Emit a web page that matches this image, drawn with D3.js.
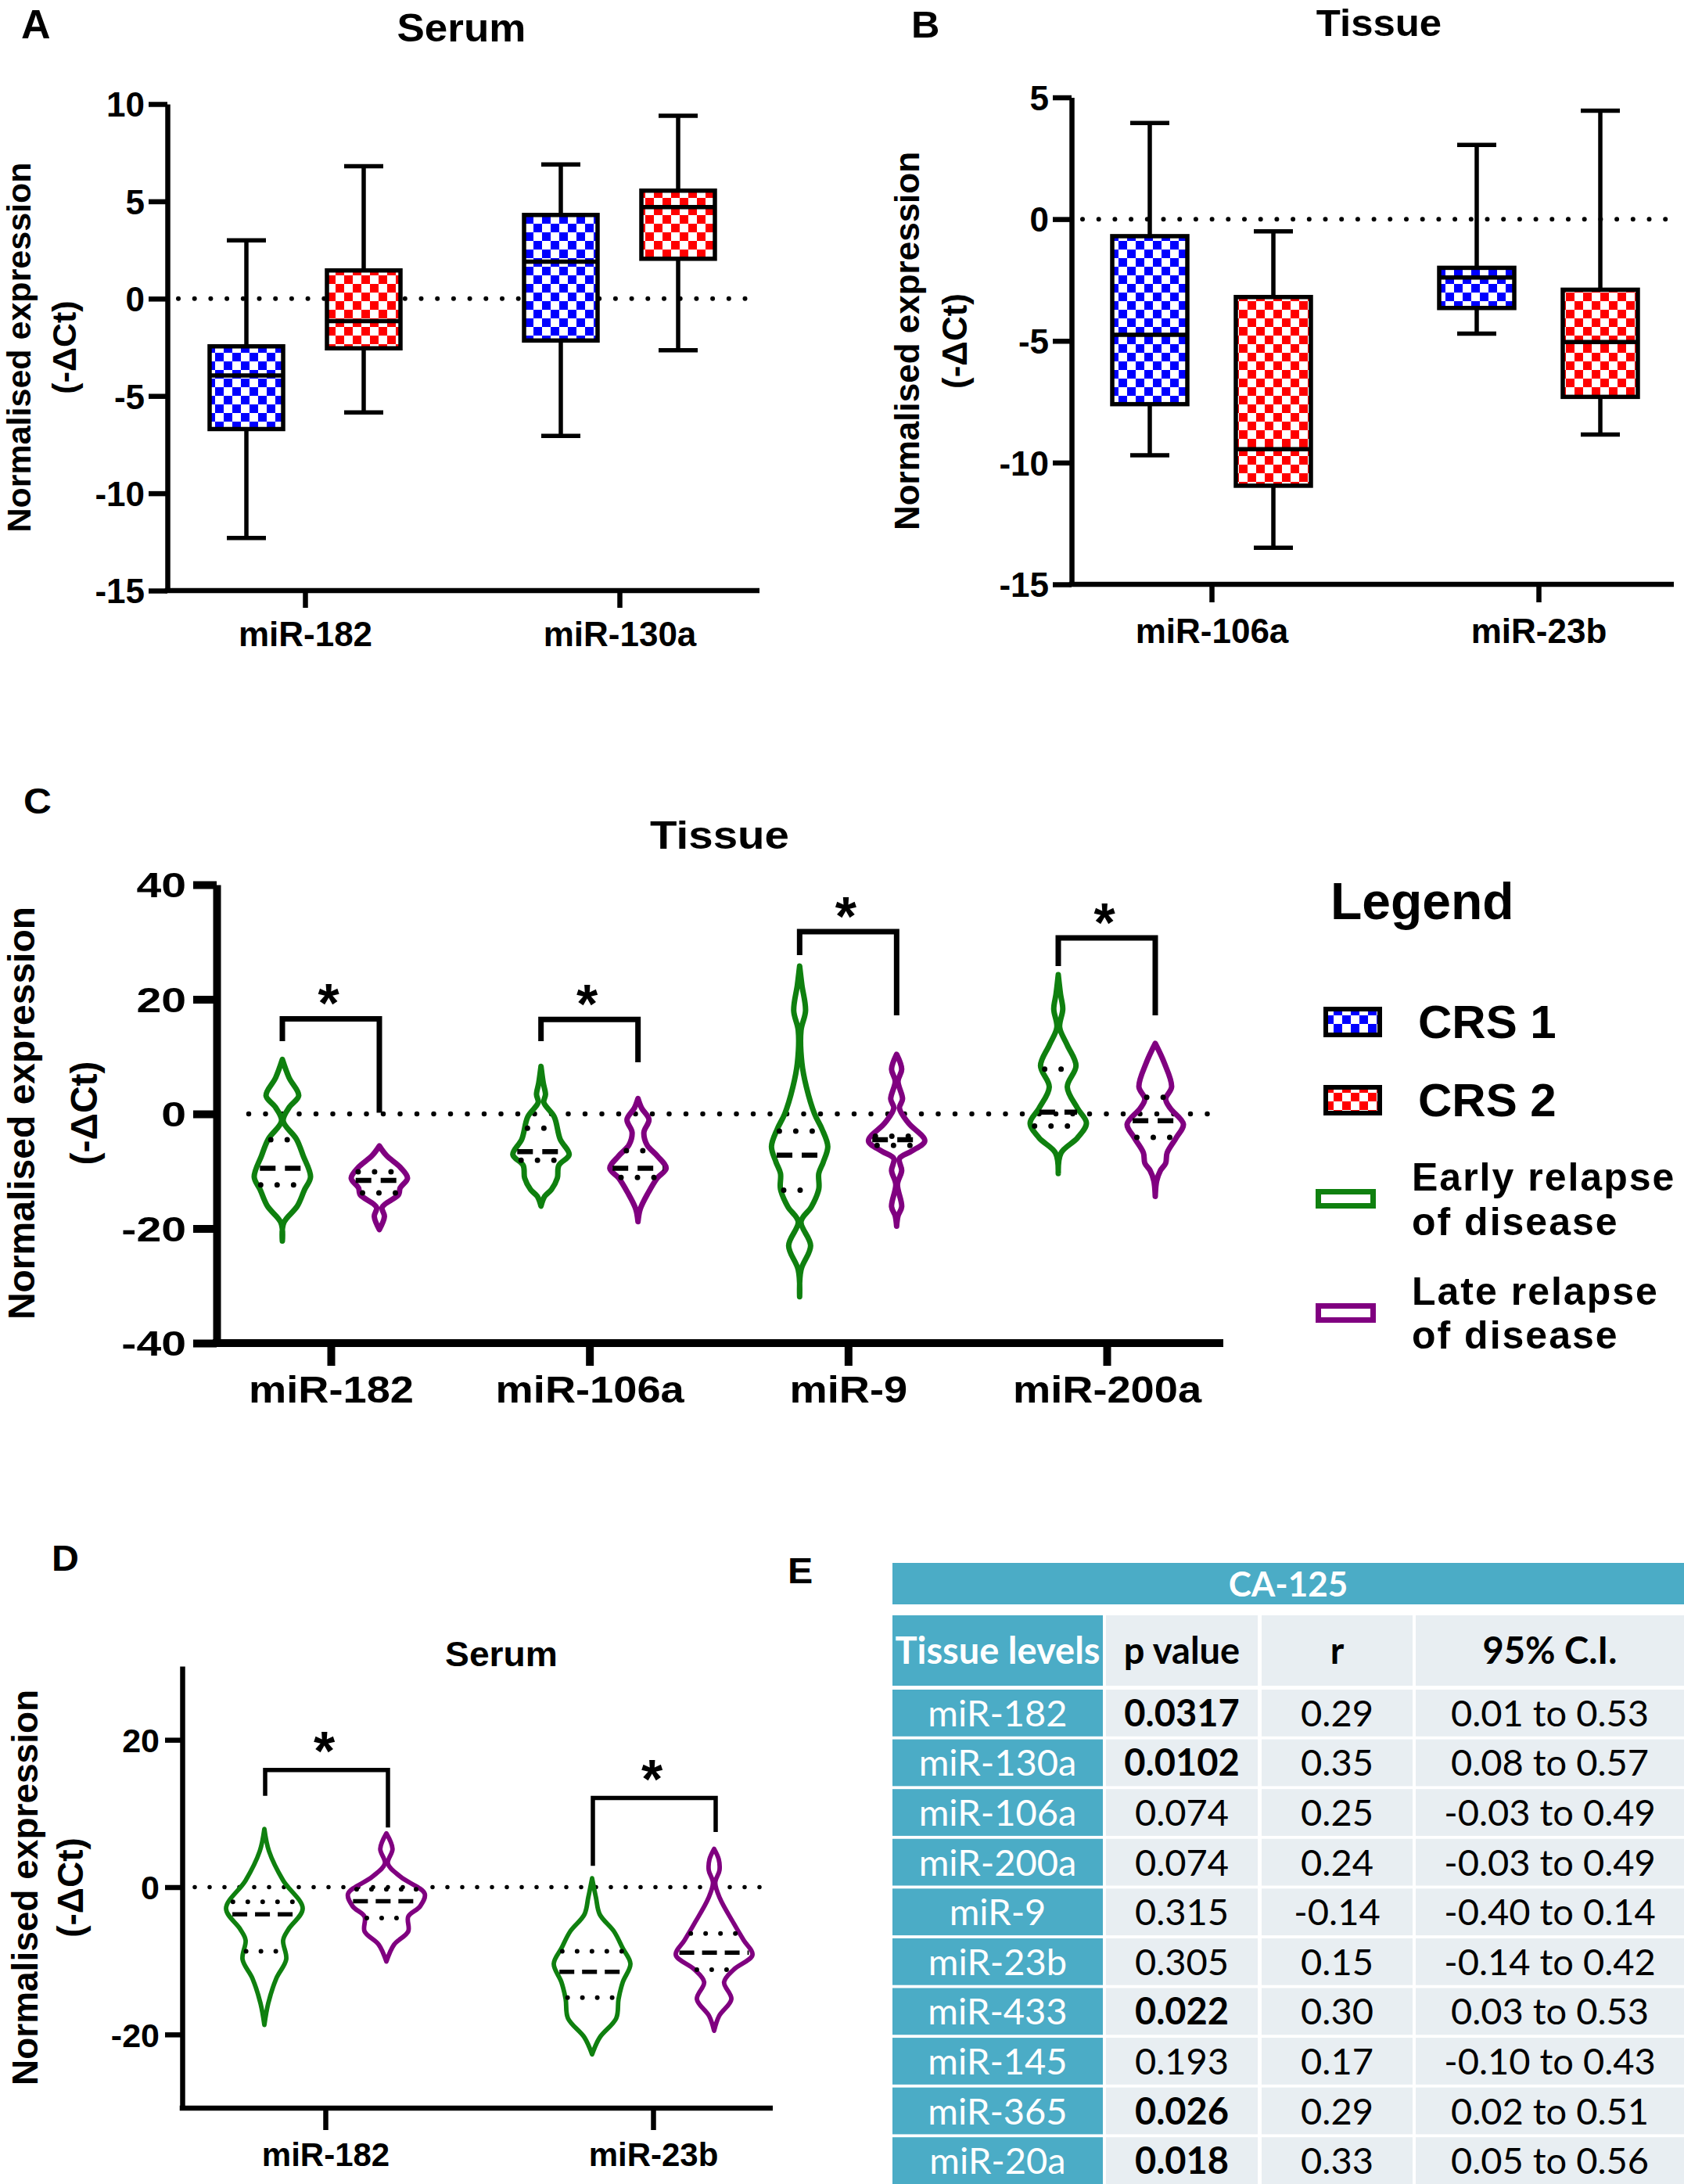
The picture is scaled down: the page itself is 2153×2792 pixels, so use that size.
<!DOCTYPE html>
<html><head><meta charset="utf-8">
<script src="https://cdn.jsdelivr.net/npm/d3@7"></script>
<style>html,body{margin:0;padding:0;background:#fff}svg{display:block}</style>
</head><body>
<script>
// ================= DATA =================
// Panel A (Serum) and B (Tissue) box plots: [min, q1, median, q3, max]
const catsA = ["miR-182", "miR-130a"];
const boxA_CRS1 = [[-12.3, -6.7, -3.95, -2.45, 3.0], [-7.05, -2.15, 1.9, 4.3, 6.9]];
const boxA_CRS2 = [[-5.85, -2.55, -1.15, 1.45, 6.8], [-2.65, 2.05, 4.7, 5.55, 9.4]];
const ticksA = [10, 5, 0, -5, -10, -15];

const catsB = ["miR-106a", "miR-23b"];
const boxB_CRS1 = [[-9.7, -7.6, -4.75, -0.7, 3.95], [-4.7, -3.65, -2.4, -2.0, 3.05]];
const boxB_CRS2 = [[-13.5, -10.95, -9.45, -3.2, -0.5], [-8.85, -7.3, -5.05, -2.9, 4.45]];
const ticksB = [5, 0, -5, -10, -15];

// Panel C (Tissue) violins: shape = [value, relative density]
const catsC = ["miR-182", "miR-106a", "miR-9", "miR-200a"];
const cEarly = [
  {median: -9.5, q1: -12.4, q3: -4.5, shape: [[9.5,0],[6.3,0.24],[3.2,0.58],[1.2,0.25],[-1.2,0.03],[-4.4,0.5],[-7.3,0.74],[-11,1],[-13.2,0.79],[-16.1,0.53],[-19,0.05],[-22.2,0]]},
  {median: -6.6, q1: -8.1, q3: -2.5, shape: [[8.3,0],[5.4,0.08],[3.4,0.16],[2,0.1],[-0.5,0.47],[-4.4,0.68],[-7.1,1],[-9,0.63],[-11.2,0.58],[-13.2,0.37],[-14.4,0.13],[-16.1,0]]},
  {median: -7.2, q1: -13.3, q3: -3.0, shape: [[25.8,0],[22.5,0.08],[18,0.21],[14.6,0.05],[8.9,0.08],[4.7,0.24],[0,0.53],[-2.6,0.79],[-5.7,1],[-8.4,0.84],[-10.4,0.68],[-13.1,0.68],[-16.2,0.42],[-18.8,0.05],[-23,0.39],[-27.2,0.05],[-31.9,0]]},
  {median: 0.3, q1: -2.1, q3: 7.8, shape: [[24.3,0],[20.9,0.08],[18.3,0.16],[15.1,0.05],[12,0.32],[8.4,0.63],[4.7,0.32],[1,0.68],[-1.6,1],[-4.2,0.68],[-6.8,0.1],[-10.4,0]]}
];
const cLate = [
  {median: -11.6, q1: -13.8, q3: -10.1, shape: [[-5.6,0],[-7.3,0.26],[-9.3,0.74],[-11.2,1],[-12.9,0.74],[-14.1,0.68],[-16.3,0.1],[-17.9,0.18],[-20.2,0]]},
  {median: -9.5, q1: -11.1, q3: -6.4, shape: [[2.7,0],[1,0.13],[-1,0.39],[-3.2,0.21],[-5.4,0.32],[-7.3,0.68],[-9.5,1],[-11.2,0.68],[-13.7,0.37],[-16.6,0.08],[-18.8,0]]},
  {median: -4.5, q1: -5.5, q3: -3.9, shape: [[10.4,0],[7.8,0.18],[5.7,0.05],[2.6,0.21],[1,0.1],[-1.6,0.42],[-4.7,1],[-6.5,0.53],[-7.8,0.1],[-9.9,0.18],[-12.3,0.03],[-16.2,0.18],[-17.8,0.05],[-19.6,0]]},
  {median: -1.2, q1: -4.1, q3: 2.9, shape: [[12.3,0],[8.9,0.32],[4.7,0.58],[2.6,0.37],[1,0.53],[-1.8,1],[-4.2,0.74],[-6.8,0.42],[-8.6,0.37],[-9.9,0.18],[-11.7,0.05],[-14.4,0]]}
];
const bracketC = [[16.6, 12.7, 0.2], [16.5, 12.7, 9.0], [31.8, 27.7, 17.2], [30.7, 25.8, 17.2]]; // [top, left end, right end]
const ticksC = [40, 20, 0, -20, -40];

// Panel D (Serum) violins
const catsD = ["miR-182", "miR-23b"];
const dEarly = [
  {median: -3.7, q1: -8.7, q3: -2.0, shape: [[7.9,0],[4.9,0.12],[0.9,0.49],[-2.9,1],[-5.7,0.63],[-7.2,0.49],[-9.8,0.57],[-12.4,0.31],[-15.8,0.1],[-18.7,0]]},
  {median: -11.5, q1: -15.0, q3: -8.7, shape: [[1.2,0],[-1.4,0.1],[-3.7,0.2],[-6.0,0.57],[-8.3,0.8],[-10.4,1],[-12.9,0.8],[-15.2,0.69],[-17.8,0.63],[-20.4,0.2],[-22.7,0]]}
];
const dLate = [
  {median: -1.9, q1: -4.2, q3: -0.3, shape: [[7.3,0],[5.2,0.16],[3.2,0.04],[1.4,0.37],[-0.9,1],[-2.6,0.88],[-4.0,0.57],[-6.0,0.57],[-7.8,0.2],[-10.1,0]]},
  {median: -8.9, q1: -11.2, q3: -6.3, shape: [[5.2,0],[3.8,0.12],[2.3,0.14],[0.6,0.03],[-1.5,0.15],[-4.9,0.51],[-7.2,0.77],[-9.2,1],[-11.2,0.51],[-12.9,0.26],[-15.2,0.45],[-17.5,0.13],[-19.5,0]]}
];
const bracketD = [[15.9, 12.4, 8.1], [12.1, 2.9, 7.5]];
const ticksD = [20, 0, -20];

// Legend
const legendBoxes = ["CRS 1", "CRS 2"];
const legendViolins = [["Early relapse", "of disease"], ["Late relapse", "of disease"]];

// Panel E table
const tableTitle = "CA-125";
const tableHeaders = ["Tissue levels", "p value", "r", "95% C.I."];
const tableMiR = ["miR-182", "miR-130a", "miR-106a", "miR-200a", "miR-9", "miR-23b", "miR-433", "miR-145", "miR-365", "miR-20a"];
const tableP = ["0.0317", "0.0102", "0.074", "0.074", "0.315", "0.305", "0.022", "0.193", "0.026", "0.018"];
const tablePBold = [true, true, false, false, false, false, true, false, true, true];
const tableR = ["0.29", "0.35", "0.25", "0.24", "-0.14", "0.15", "0.30", "0.17", "0.29", "0.33"];
const tableCI = ["0.01 to 0.53", "0.08 to 0.57", "-0.03 to 0.49", "-0.03 to 0.49", "-0.40 to 0.14", "-0.14 to 0.42", "0.03 to 0.53", "-0.10 to 0.43", "0.02 to 0.51", "0.05 to 0.56"];

// ================= STYLE =================
const W = 2153, H = 2792;
const FONT = '"Liberation Sans", Arial, Helvetica, sans-serif';
const TFONT = 'Lato, "Open Sans", sans-serif';
const BLUE = "#0000ff", RED = "#ff0000", GREEN = "#0f800f", PURPLE = "#800080";
const TEAL = "#4bacc6", LIGHT = "#e8eef2";

const svg = d3.select("body").append("svg").attr("width", W).attr("height", H).attr("viewBox", `0 0 ${W} ${H}`);
svg.append("rect").attr("width", W).attr("height", H).attr("fill", "#fff");
const defs = svg.append("defs");
function checker(id, color) {
  const p = defs.append("pattern").attr("id", id).attr("patternUnits", "userSpaceOnUse").attr("width", 22).attr("height", 22);
  p.append("rect").attr("width", 22).attr("height", 22).attr("fill", "#fff");
  p.append("rect").attr("width", 11).attr("height", 11).attr("fill", color);
  p.append("rect").attr("x", 11).attr("y", 11).attr("width", 11).attr("height", 11).attr("fill", color);
}
checker("chkBlue", BLUE); checker("chkRed", RED);

function text(g, x, y, str, o = {}) {
  const sx = o.sx || 1;
  const t = g.append("text")
    .attr("transform", `translate(${x},${y}) scale(${sx},1)` + (o.rotate ? ` rotate(${o.rotate})` : ""))
    .attr("font-family", o.family || FONT).attr("font-weight", o.weight || "bold")
    .attr("font-size", o.size || 40).attr("text-anchor", o.anchor || "start")
    .attr("fill", o.fill || "#000").text(str);
  if (o.ls) t.attr("letter-spacing", o.ls);
  return t;
}

function yAxis(g, y, ticks, o) {
  const ax = g.append("g").attr("transform", `translate(${o.x},0)`)
    .call(d3.axisLeft(y).tickValues(ticks).tickSize(o.tick).tickSizeOuter(0).tickPadding(o.pad).tickFormat(d => String(d)));
  ax.select(".domain").attr("stroke", "#000").attr("stroke-width", o.sw);
  ax.selectAll(".tick line").attr("stroke", "#000").attr("stroke-width", o.sw);
  ax.selectAll(".tick text").each(function () {
    const t = d3.select(this); const tx = +t.attr("x");
    t.attr("x", 0).attr("dy", null).attr("fill", "#000")
      .attr("font-family", FONT).attr("font-weight", "bold").attr("font-size", o.fs)
      .attr("transform", `translate(${tx},${o.fs * 0.36}) scale(${o.sx || 1},1)`);
  });
}
function xAxis(g, x, o) {
  g.append("line").attr("x1", o.x0 - o.sw / 2).attr("x2", o.x1).attr("y1", o.y).attr("y2", o.y)
    .attr("stroke", "#000").attr("stroke-width", o.sw);
  const ax = g.append("g").attr("transform", `translate(0,${o.y})`)
    .call(d3.axisBottom(x).tickSize(o.tick).tickSizeOuter(0));
  ax.select(".domain").remove();
  ax.selectAll(".tick line").attr("stroke", "#000").attr("stroke-width", o.sw);
  ax.selectAll(".tick text").attr("y", null).attr("dy", null).attr("fill", "#000")
    .attr("font-family", FONT).attr("font-weight", "bold").attr("font-size", o.fs).attr("text-anchor", "middle")
    .attr("transform", `translate(0,${o.labelY - o.y}) scale(${o.sx || 1},1)`);
}
function yTitle(g, cy, l1x, l2x, fs) {
  text(g, l1x, cy, "Normalised expression", {size: fs, anchor: "middle", rotate: -90});
  text(g, l2x, cy, "(-ΔCt)", {size: fs, anchor: "middle", rotate: -90});
}
function zeroLine(g, y, x0, x1, gap, sw) {
  g.append("line").attr("x1", x0).attr("x2", x1).attr("y1", y(0)).attr("y2", y(0))
    .attr("stroke", "#000").attr("stroke-width", sw).attr("stroke-linecap", "round")
    .attr("stroke-dasharray", `0 ${gap}`);
}

// ---------- box plots ----------
function boxes(g, x, y, cats, data, fill, offset, bw, cw, sw) {
  cats.forEach((c, i) => {
    const [mn, q1, md, q3, mx] = data[i];
    const cx = x(c) + offset;
    const L = (x1, y1, x2, y2) => g.append("line").attr("x1", x1).attr("y1", y1).attr("x2", x2).attr("y2", y2)
      .attr("stroke", "#000").attr("stroke-width", sw);
    L(cx, y(mx), cx, y(q3)); L(cx, y(q1), cx, y(mn));
    L(cx - cw / 2, y(mx), cx + cw / 2, y(mx)); L(cx - cw / 2, y(mn), cx + cw / 2, y(mn));
    g.append("rect").attr("x", cx - bw / 2).attr("y", y(q3)).attr("width", bw).attr("height", y(q1) - y(q3))
      .attr("fill", `url(#${fill})`).attr("stroke", "#000").attr("stroke-width", sw);
    L(cx - bw / 2, y(md), cx + bw / 2, y(md));
  });
}

// ---------- violins ----------
function hwAt(shape, v) {
  for (let i = 0; i < shape.length - 1; i++) {
    const [a, da] = shape[i], [b, db] = shape[i + 1];
    if (v <= a && v >= b) return da + (db - da) * (a - v) / (a - b);
  }
  return 0;
}
function violins(g, x, y, cats, data, color, offset, maxW, o) {
  cats.forEach((c, i) => {
    const d = data[i], cx = x(c) + offset;
    const area = d3.area().curve(d3.curveCatmullRom.alpha(0.5))
      .y(p => y(p[0])).x0(p => cx - p[1] * maxW).x1(p => cx + p[1] * maxW);
    g.append("path").attr("d", area(d.shape)).attr("fill", "none").attr("stroke", color)
      .attr("stroke-width", o.sw).attr("stroke-linejoin", "round").attr("stroke-linecap", "round");
    const seg = (v, dash, w, cap) => {
      const hw = hwAt(d.shape, v) * maxW - o.sw / 2;
      if (hw <= 2) return;
      g.append("line").attr("x1", cx - hw).attr("x2", cx + hw).attr("y1", y(v)).attr("y2", y(v))
        .attr("stroke", "#000").attr("stroke-width", w).attr("stroke-dasharray", dash).attr("stroke-linecap", cap);
    };
    seg(d.median, o.medDash, o.medW, "butt");
    seg(d.q1, `0 ${o.qGap}`, o.qW, "round");
    seg(d.q3, `0 ${o.qGap}`, o.qW, "round");
  });
}
function brackets(g, x, y, cats, data, offL, offR, sw, starFs, starUp) {
  cats.forEach((c, i) => {
    const [top, l, r] = data[i];
    const xl = x(c) + offL, xr = x(c) + offR;
    g.append("path").attr("d", `M${xl},${y(l)}V${y(top)}H${xr}V${y(r)}`)
      .attr("fill", "none").attr("stroke", "#000").attr("stroke-width", sw).attr("stroke-linejoin", "miter");
    text(g, (xl + xr) / 2 - 3, y(top) - starUp + starFs * 0.58, "*", {size: starFs, anchor: "middle"});
  });
}

// ================= PANEL A =================
const gA = svg.append("g");
const yA = d3.scaleLinear().domain([-15, 10]).range([755, 133]);
const xA = d3.scalePoint().domain(catsA).range([390, 792]);
text(gA, 27, 49, "A", {size: 52});
text(gA, 590, 53, "Serum", {size: 50, anchor: "middle", sx: 1.06});
yTitle(gA, 444, 39, 97, 43);
zeroLine(gA, yA, 228, 962, 20.7, 6);
boxes(gA, xA, yA, catsA, boxA_CRS1, "chkBlue", -75, 94, 50, 5.5);
boxes(gA, xA, yA, catsA, boxA_CRS2, "chkRed", 75, 94, 50, 5.5);
yAxis(gA, yA, ticksA, {x: 214, tick: 24, pad: 5, sw: 6.5, fs: 44});
xAxis(gA, xA, {x0: 214, x1: 971, y: 755, tick: 22, sw: 6.5, fs: 44, labelY: 826});

// ================= PANEL B =================
const gB = svg.append("g");
const yB = d3.scaleLinear().domain([-15, 5]).range([747, 124.5]);
const xB = d3.scalePoint().domain(catsB).range([1549, 1967]);
text(gB, 1165, 48, "B", {size: 48, sx: 1.05});
text(gB, 1763, 46, "Tissue", {size: 48, anchor: "middle", sx: 1.06});
yTitle(gB, 436, 1175, 1236, 44);
zeroLine(gB, yB, 1384, 2135, 20.7, 6);
boxes(gB, xB, yB, catsB, boxB_CRS1, "chkBlue", -79, 96, 50, 5.5);
boxes(gB, xB, yB, catsB, boxB_CRS2, "chkRed", 79, 96, 50, 5.5);
yAxis(gB, yB, ticksB, {x: 1370, tick: 24, pad: 5, sw: 6.5, fs: 44});
xAxis(gB, xB, {x0: 1370, x1: 2140, y: 747, tick: 23, sw: 6.5, fs: 44, labelY: 822});

// ================= PANEL C =================
const gC = svg.append("g");
const yC = d3.scaleLinear().domain([-40, 40]).range([1717, 1131]);
const xC = d3.scalePoint().domain(catsC).range([423, 1415]);
text(gC, 30, 1040, "C", {size: 46, sx: 1.08});
text(gC, 920, 1085, "Tissue", {size: 50, anchor: "middle", sx: 1.13});
yTitle(gC, 1423, 44, 124, 48);
zeroLine(gC, yC, 318, 1560, 21.5, 6.5);
violins(gC, xC, yC, catsC, cEarly, GREEN, -62, 36, {sw: 7, medDash: "20 12", medW: 6.5, qGap: 21, qW: 7});
violins(gC, xC, yC, catsC, cLate, PURPLE, 62, 36, {sw: 7, medDash: "20 12", medW: 6.5, qGap: 21, qW: 7});
brackets(gC, xC, yC, catsC, bracketC, -62, 62, 7, 70, 36);
yAxis(gC, yC, ticksC, {x: 277, tick: 30, pad: 9, sw: 10, fs: 44, sx: 1.3});
xAxis(gC, xC, {x0: 277, x1: 1564, y: 1717, tick: 29, sw: 10, fs: 48, sx: 1.13, labelY: 1793});

// Legend
const gL = svg.append("g");
text(gL, 1701, 1175, "Legend", {size: 66});
legendBoxes.forEach((lab, i) => {
  const yy = 1290 + i * 100;
  gL.append("rect").attr("x", 1695).attr("y", yy).attr("width", 69).attr("height", 33)
    .attr("fill", i === 0 ? "url(#chkBlue)" : "url(#chkRed)").attr("stroke", "#000").attr("stroke-width", 6);
  text(gL, 1813, yy + 37, lab, {size: 60});
});
legendViolins.forEach((lines, i) => {
  const yy = 1523.5 + i * 146;
  gL.append("rect").attr("x", 1685.5).attr("y", yy).attr("width", 70).attr("height", 18)
    .attr("fill", "none").attr("stroke", i === 0 ? GREEN : PURPLE).attr("stroke-width", 7);
  text(gL, 1805, 1522 + i * 146, lines[0], {size: 50, ls: 2});
  text(gL, 1805, 1579 + i * 145, lines[1], {size: 50, ls: 2});
});

// ================= PANEL D =================
const gD = svg.append("g");
const yD = d3.scaleLinear().domain([-30, 30]).range([2695, 2130]);
const xD = d3.scalePoint().domain(catsD).range([416, 835]);
text(gD, 66, 2008, "D", {size: 46, sx: 1.05});
text(gD, 641, 2130, "Serum", {size: 44, anchor: "middle", sx: 1.05});
yTitle(gD, 2413, 48, 106, 46);
zeroLine(gD, yD, 249, 990, 19, 5.5);
violins(gD, xD, yD, catsD, dEarly, GREEN, -78, 49, {sw: 5.8, medDash: "19 10", medW: 5.5, qGap: 19, qW: 6});
violins(gD, xD, yD, catsD, dLate, PURPLE, 78, 49, {sw: 5.8, medDash: "19 10", medW: 5.5, qGap: 19, qW: 6});
brackets(gD, xD, yD, catsD, bracketD, -77, 80, 5.5, 70, 40);
yAxis(gD, yD, ticksD, {x: 233, tick: 22, pad: 7, sw: 6.5, fs: 43});
xAxis(gD, xD, {x0: 233, x1: 988, y: 2695, tick: 28, sw: 6.5, fs: 42, labelY: 2769});

// ================= PANEL E (table) =================
const gE = svg.append("g");
text(gE, 1007, 2024, "E", {size: 46, sx: 1.05});
const colEdges = [[1141, 1410], [1414, 1608], [1613, 1806], [1810, 2153]];
const rowY = d3.scaleBand().domain(tableMiR).range([2160, 2792]).paddingInner(0.06);
const TFS = 47;
gE.append("rect").attr("x", 1141).attr("y", 1998).attr("width", 2153 - 1141).attr("height", 53).attr("fill", TEAL);
text(gE, 1647, 2024.5 + 16, tableTitle, {size: 44, anchor: "middle", fill: "#fff", family: TFONT});
tableHeaders.forEach((h, j) => {
  const [a, b] = colEdges[j];
  gE.append("rect").attr("x", a).attr("y", 2065).attr("width", b - a).attr("height", 90).attr("fill", j === 0 ? TEAL : LIGHT);
  text(gE, (a + b) / 2, 2110 + 17, h, {size: TFS, anchor: "middle", fill: j === 0 ? "#fff" : "#000", family: TFONT});
});
tableMiR.forEach((m, i) => {
  const y0 = rowY(m), hh = rowY.bandwidth(), cy = y0 + hh / 2 + 17;
  const vals = [m, tableP[i], tableR[i], tableCI[i]];
  vals.forEach((v, j) => {
    const [a, b] = colEdges[j];
    gE.append("rect").attr("x", a).attr("y", y0).attr("width", b - a).attr("height", hh).attr("fill", j === 0 ? TEAL : LIGHT);
    text(gE, (a + b) / 2, cy, v, {size: TFS, anchor: "middle", family: TFONT,
      fill: j === 0 ? "#fff" : "#000", weight: (j === 1 && tablePBold[i]) ? "bold" : "normal"});
  });
});
</script>
</body></html>
